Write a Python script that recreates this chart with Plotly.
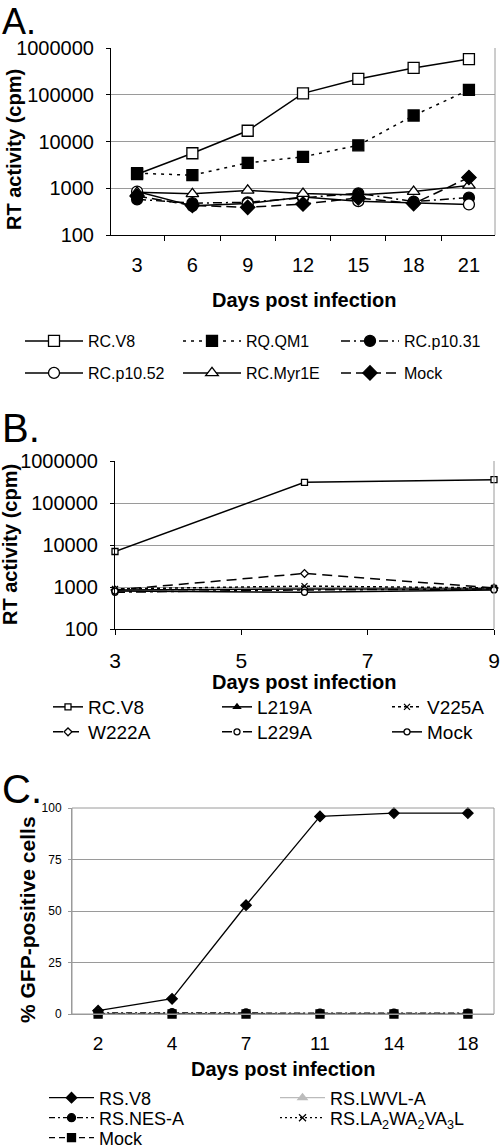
import plotly.graph_objects as go

W, H = 500, 1148
FONT = "Liberation Sans, Arial, sans-serif"

# ---------------- data ----------------
a_days = ["3", "6", "9", "12", "15", "18", "21"]
a_rcv8 = [2000, 5600, 17000, 107000, 218000, 375000, 580000]
a_rqqm1 = [2100, 1900, 3500, 4700, 8300, 36000, 127000]
a_p1031 = [580, 480, 500, 620, 780, 520, 630]
a_p1052 = [850, 420, 470, 650, 530, 490, 450]
a_myr1e = [820, 760, 900, 770, 720, 850, 1150]
a_mock = [680, 430, 390, 460, 620, 470, 1700]

b_days = [3, 6, 9]
b_rcv8 = [7000, 310000, 360000]
b_l219a = [850, 900, 900]
b_v225a = [900, 1050, 950]
b_w222a = [850, 2100, 950]
b_l229a = [750, 850, 900]
b_mock = [800, 750, 850]

c_days = ["2", "4", "7", "11", "14", "18"]
c_rsv8 = [1.6, 7.4, 52.8, 95.9, 97.5, 97.5]
c_lwvl = [0.3, 0.4, 0.3, 0.3, 0.3, 0.3]
c_nes = [0.5, 0.6, 0.5, 0.4, 0.4, 0.4]
c_la2 = [0.2, 0.3, 0.2, 0.2, 0.2, 0.2]
c_mock = [0, 0, 0, 0, 0, 0]


def px(x):
    return x / W


def py(y):
    return 1 - y / H


fig = go.Figure()
legends = {}
counter = [0]


def leg(xp, yp, size, iw):
    counter[0] += 1
    key = "legend" if counter[0] == 1 else f"legend{counter[0]}"
    legends[key] = dict(orientation="v", x=px(xp), y=py(yp), xanchor="left", yanchor="middle",
                        xref="paper", yref="paper", itemwidth=iw,
                        font=dict(size=size, family=FONT), bgcolor="rgba(0,0,0,0)",
                        borderwidth=0, itemclick=False, itemdoubleclick=False)
    return key


def add(x, y, name, xa, ya, lpos, dash, sym, mcol, mline, msize, lw=1.5, lcol="black"):
    lx, ly, lsize, iw = lpos
    key = leg(lx, ly, lsize, iw)
    fig.add_trace(go.Scatter(
        x=x, y=y, name=name, xaxis=xa, yaxis=ya, legend=key,
        mode="lines+markers", cliponaxis=False,
        line=dict(color=lcol, width=lw, dash=dash),
        marker=dict(symbol=sym, size=msize, color=mcol,
                    line=dict(color=mline, width=1.3)),
    ))


LA = 16
LB = 19
LC = 18

# Panel A
add(a_days, a_rcv8, "RC.V8", "x", "y", (20, 341, LA, 58), "solid", "square", "white", "black", 11)
add(a_days, a_rqqm1, "RQ.QM1", "x", "y", (178, 341, LA, 58), "3px,5px", "square", "black", "black", 11)
add(a_days, a_p1031, "RC.p10.31", "x", "y", (336, 341, LA, 58), "9px,4px,2px,4px", "circle", "black", "black", 11)
add(a_days, a_p1052, "RC.p10.52", "x", "y", (20, 373, LA, 58), "solid", "circle", "white", "black", 11)
add(a_days, a_myr1e, "RC.Myr1E", "x", "y", (178, 373, LA, 58), "solid", "triangle-up", "white", "black", 11)
add(a_days, a_mock, "Mock", "x", "y", (336, 373, LA, 58), "10px,5px", "diamond", "black", "black", 11)

# Panel B
add(b_days, b_rcv8, "RC.V8", "x2", "y2", (48, 707, LB, 30), "solid", "square", "white", "black", 6)
add(b_days, b_l219a, "L219A", "x2", "y2", (217, 707, LB, 30), "solid", "triangle-up", "black", "black", 6)
add(b_days, b_v225a, "V225A", "x2", "y2", (387, 707, LB, 30), "3px,3px", "x-thin", "black", "black", 6)
add(b_days, b_w222a, "W222A", "x2", "y2", (48, 732, LB, 30), "10px,6px", "diamond", "white", "black", 6)
add(b_days, b_l229a, "L229A", "x2", "y2", (217, 732, LB, 30), "10px,4px,3px,4px", "circle", "white", "black", 6)
add(b_days, b_mock, "Mock", "x2", "y2", (387, 732, LB, 30), "solid", "circle", "white", "black", 6)

# Panel C
add(c_days, c_rsv8, "RS.V8", "x3", "y3", (44, 1098, LC, 45), "solid", "diamond", "black", "black", 8, 1.3)
add(c_days, c_lwvl, "RS.LWVL-A", "x3", "y3", (275, 1098, LC, 45), "solid", "triangle-up", "#bbbbbb", "#bbbbbb", 8, 1.3, "#bbbbbb")
add(c_days, c_nes, "RS.NES-A", "x3", "y3", (44, 1118, LC, 45), "6px,3px,2px,3px", "circle", "black", "black", 8, 1.3)
add(c_days, c_la2, "RS.LA<sub>2</sub>WA<sub>2</sub>VA<sub>3</sub>L", "x3", "y3", (275, 1118, LC, 45), "2px,3px", "x-thin", "black", "black", 7, 1.3)
add(c_days, c_mock, "Mock", "x3", "y3", (44, 1138, LC, 45), "6px,4px", "square", "black", "black", 8, 1.3)

GRID = "#9a9a9a"
LOGV = [100, 1000, 10000, 100000, 1000000]
LOGT = ["100", "1000", "10000", "100000", "1000000"]

lay = dict(
    width=W, height=H, margin=dict(l=0, r=0, t=0, b=0, autoexpand=False),
    paper_bgcolor="white", plot_bgcolor="white",
    font=dict(family=FONT, color="black", size=16),
    showlegend=True,
    xaxis=dict(domain=[px(111), px(495)], type="category", anchor="y", automargin=False,
               showgrid=False, showline=True, linecolor="black", linewidth=1,
               ticks="outside", tickson="boundaries", ticklen=5, tickcolor="black",
               tickfont=dict(size=20), ticklabelstandoff=12, fixedrange=True),
    yaxis=dict(domain=[py(235), py(48)], type="log", range=[2, 6], anchor="x", automargin=False,
               tickvals=LOGV, ticktext=LOGT,
               showgrid=True, gridcolor=GRID, gridwidth=1,
               showline=True, linecolor="black", linewidth=1,
               ticks="outside", ticklen=4, tickcolor="black", tickfont=dict(size=20),
               ticklabelstandoff=8, zeroline=False),
    xaxis2=dict(domain=[px(115), px(494)], range=[3, 9], anchor="y2", automargin=False,
                tickvals=[3, 5, 7, 9], showgrid=False, ticklabeloverflow="allow",
                showline=True, linecolor="black", linewidth=1,
                ticks="outside", ticklen=5, tickcolor="black",
                tickfont=dict(size=21), ticklabelstandoff=8, zeroline=False),
    yaxis2=dict(domain=[py(629), py(461)], type="log", range=[2, 6], anchor="x2", automargin=False,
                tickvals=LOGV, ticktext=LOGT,
                showgrid=True, gridcolor=GRID, gridwidth=1,
                showline=True, linecolor="black", linewidth=1,
                ticks="outside", ticklen=4, tickcolor="black", tickfont=dict(size=20),
                ticklabelstandoff=8, zeroline=False),
    xaxis3=dict(domain=[px(72), px(494)], type="category", anchor="y3", automargin=False,
                showgrid=False, showline=True, linecolor=GRID, linewidth=1,
                ticks="", tickfont=dict(size=19), ticklabelstandoff=12),
    yaxis3=dict(domain=[py(1014), py(808)], range=[0, 100], anchor="x3", automargin=False,
                tickvals=[0, 25, 50, 75, 100],
                showgrid=True, gridcolor=GRID, gridwidth=1,
                showline=True, linecolor=GRID, linewidth=1,
                ticks="outside", ticklen=3, tickcolor=GRID,
                tickfont=dict(size=12), ticklabelstandoff=4, zeroline=False),
)
lay.update(legends)
fig.update_layout(**lay)

for xa, ya in (("x", "y"), ("x2", "y2")):
    fig.add_shape(type="line", xref=f"{xa} domain", yref=f"{ya} domain",
                  x0=1, x1=1, y0=0, y1=1, line=dict(color=GRID, width=1))
fig.add_shape(type="rect", xref="x3 domain", yref="y3 domain",
              x0=0, x1=1, y0=0, y1=1, line=dict(color=GRID, width=1))

ann = []


def text(x, y, s, size, bold=False, angle=0, xanchor="center"):
    ann.append(dict(x=px(x), y=py(y), xref="paper", yref="paper", text=f"<b>{s}</b>" if bold else s,
                    showarrow=False, font=dict(size=size, family=FONT), textangle=angle,
                    xanchor=xanchor, yanchor="middle"))


text(0, 21, "A.", 36, xanchor="left")
text(0, 428, "B.", 40, xanchor="left")
text(0, 789, "C.", 40, xanchor="left")
text(304, 300, "Days post infection", 20, True)
text(14, 150, "RT activity (cpm)", 20, True, -90)
text(304, 682, "Days post infection", 20, True)
text(10, 545, "RT activity (cpm)", 20, True, -90)
text(283, 1069, "Days post infection", 20, True)
text(27, 920, "% GFP-positive cells", 21, True, -90)

fig.update_layout(annotations=ann)
fig.write_html("out.html", config={"displayModeBar": False},
               post_script="document.body.style.margin='0px';document.body.style.overflow='hidden';")
